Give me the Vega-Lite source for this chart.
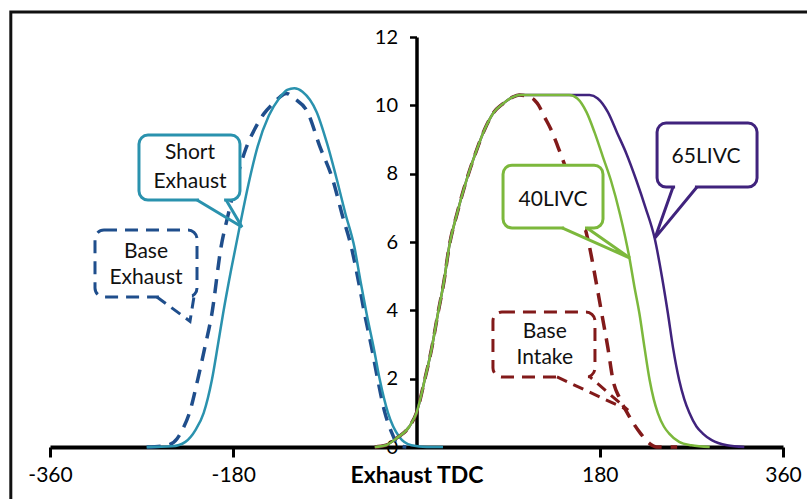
{
  "$schema": "https://vega.github.io/schema/vega-lite/v6.json",
  "width": 733,
  "height": 410,
  "autosize": {"type": "none"},
  "padding": {"left": 50, "top": 37, "right": 24, "bottom": 52},
  "background": "white",
  "config": {"view": {"stroke": null}, "font": "Lato"},
  "datasets": {
    "curves": [
      {"series": "Base Exhaust", "angle": -265, "lift": 0},
      {"series": "Base Exhaust", "angle": -245, "lift": 0.05},
      {"series": "Base Exhaust", "angle": -235, "lift": 0.25},
      {"series": "Base Exhaust", "angle": -230, "lift": 0.5},
      {"series": "Base Exhaust", "angle": -223, "lift": 1.0},
      {"series": "Base Exhaust", "angle": -215, "lift": 1.96},
      {"series": "Base Exhaust", "angle": -208, "lift": 2.9},
      {"series": "Base Exhaust", "angle": -201, "lift": 3.9},
      {"series": "Base Exhaust", "angle": -192, "lift": 5.85},
      {"series": "Base Exhaust", "angle": -185, "lift": 6.8},
      {"series": "Base Exhaust", "angle": -177, "lift": 7.8},
      {"series": "Base Exhaust", "angle": -168, "lift": 8.7},
      {"series": "Base Exhaust", "angle": -159, "lift": 9.3},
      {"series": "Base Exhaust", "angle": -150, "lift": 9.75},
      {"series": "Base Exhaust", "angle": -141, "lift": 10.05},
      {"series": "Base Exhaust", "angle": -134, "lift": 10.25},
      {"series": "Base Exhaust", "angle": -128, "lift": 10.35},
      {"series": "Base Exhaust", "angle": -120, "lift": 10.2},
      {"series": "Base Exhaust", "angle": -107, "lift": 9.8},
      {"series": "Base Exhaust", "angle": -95, "lift": 8.8},
      {"series": "Base Exhaust", "angle": -82, "lift": 7.8},
      {"series": "Base Exhaust", "angle": -73, "lift": 6.8},
      {"series": "Base Exhaust", "angle": -64, "lift": 5.85},
      {"series": "Base Exhaust", "angle": -57, "lift": 4.85},
      {"series": "Base Exhaust", "angle": -51, "lift": 3.9},
      {"series": "Base Exhaust", "angle": -44, "lift": 2.9},
      {"series": "Base Exhaust", "angle": -38, "lift": 1.96},
      {"series": "Base Exhaust", "angle": -31, "lift": 1.0},
      {"series": "Base Exhaust", "angle": -24, "lift": 0.4},
      {"series": "Base Exhaust", "angle": -18, "lift": 0.05},
      {"series": "Base Exhaust", "angle": -10, "lift": 0},

      {"series": "Short Exhaust", "angle": -265, "lift": 0},
      {"series": "Short Exhaust", "angle": -240, "lift": 0.02},
      {"series": "Short Exhaust", "angle": -227, "lift": 0.15},
      {"series": "Short Exhaust", "angle": -217, "lift": 0.5},
      {"series": "Short Exhaust", "angle": -209, "lift": 1.0},
      {"series": "Short Exhaust", "angle": -201, "lift": 1.96},
      {"series": "Short Exhaust", "angle": -195, "lift": 3.0},
      {"series": "Short Exhaust", "angle": -190, "lift": 3.9},
      {"series": "Short Exhaust", "angle": -182, "lift": 5.2},
      {"series": "Short Exhaust", "angle": -174, "lift": 6.4},
      {"series": "Short Exhaust", "angle": -165, "lift": 7.7},
      {"series": "Short Exhaust", "angle": -156, "lift": 8.8},
      {"series": "Short Exhaust", "angle": -145, "lift": 9.7},
      {"series": "Short Exhaust", "angle": -135, "lift": 10.2},
      {"series": "Short Exhaust", "angle": -127, "lift": 10.45},
      {"series": "Short Exhaust", "angle": -120, "lift": 10.5},
      {"series": "Short Exhaust", "angle": -112, "lift": 10.4},
      {"series": "Short Exhaust", "angle": -98, "lift": 9.8},
      {"series": "Short Exhaust", "angle": -88, "lift": 8.9},
      {"series": "Short Exhaust", "angle": -78, "lift": 7.8},
      {"series": "Short Exhaust", "angle": -70, "lift": 6.85},
      {"series": "Short Exhaust", "angle": -61, "lift": 5.85},
      {"series": "Short Exhaust", "angle": -55, "lift": 4.85},
      {"series": "Short Exhaust", "angle": -49, "lift": 3.9},
      {"series": "Short Exhaust", "angle": -42, "lift": 2.9},
      {"series": "Short Exhaust", "angle": -36, "lift": 1.96},
      {"series": "Short Exhaust", "angle": -28, "lift": 1.0},
      {"series": "Short Exhaust", "angle": -17, "lift": 0.3},
      {"series": "Short Exhaust", "angle": -5, "lift": 0.05},
      {"series": "Short Exhaust", "angle": 10, "lift": 0},
      {"series": "Short Exhaust", "angle": 26, "lift": 0},

      {"series": "Base Intake", "angle": -41, "lift": 0},
      {"series": "Base Intake", "angle": -30, "lift": 0.05},
      {"series": "Base Intake", "angle": -20, "lift": 0.25},
      {"series": "Base Intake", "angle": -7, "lift": 0.6},
      {"series": "Base Intake", "angle": 0, "lift": 1.0},
      {"series": "Base Intake", "angle": 8, "lift": 1.96},
      {"series": "Base Intake", "angle": 15, "lift": 2.9},
      {"series": "Base Intake", "angle": 21, "lift": 3.9},
      {"series": "Base Intake", "angle": 27, "lift": 4.85},
      {"series": "Base Intake", "angle": 32, "lift": 5.85},
      {"series": "Base Intake", "angle": 40, "lift": 6.85},
      {"series": "Base Intake", "angle": 49, "lift": 7.8},
      {"series": "Base Intake", "angle": 58, "lift": 8.6},
      {"series": "Base Intake", "angle": 67, "lift": 9.3},
      {"series": "Base Intake", "angle": 76, "lift": 9.8},
      {"series": "Base Intake", "angle": 85, "lift": 10.05},
      {"series": "Base Intake", "angle": 95, "lift": 10.25},
      {"series": "Base Intake", "angle": 101, "lift": 10.3},
      {"series": "Base Intake", "angle": 110, "lift": 10.25},
      {"series": "Base Intake", "angle": 116, "lift": 10.15},
      {"series": "Base Intake", "angle": 120, "lift": 10.0},
      {"series": "Base Intake", "angle": 125, "lift": 9.7},
      {"series": "Base Intake", "angle": 132, "lift": 9.3},
      {"series": "Base Intake", "angle": 139, "lift": 8.78},
      {"series": "Base Intake", "angle": 151, "lift": 7.8},
      {"series": "Base Intake", "angle": 161, "lift": 6.9},
      {"series": "Base Intake", "angle": 170, "lift": 5.85},
      {"series": "Base Intake", "angle": 176, "lift": 4.9},
      {"series": "Base Intake", "angle": 182, "lift": 3.9},
      {"series": "Base Intake", "angle": 188, "lift": 2.9},
      {"series": "Base Intake", "angle": 193, "lift": 1.96},
      {"series": "Base Intake", "angle": 200, "lift": 1.4},
      {"series": "Base Intake", "angle": 207, "lift": 1.0},
      {"series": "Base Intake", "angle": 214, "lift": 0.65},
      {"series": "Base Intake", "angle": 220, "lift": 0.4},
      {"series": "Base Intake", "angle": 229, "lift": 0.1},
      {"series": "Base Intake", "angle": 236, "lift": 0},
      {"series": "Base Intake", "angle": 256, "lift": 0},

      {"series": "65LIVC", "angle": -41, "lift": 0},
      {"series": "65LIVC", "angle": -30, "lift": 0.05},
      {"series": "65LIVC", "angle": -20, "lift": 0.25},
      {"series": "65LIVC", "angle": -7, "lift": 0.6},
      {"series": "65LIVC", "angle": 0, "lift": 1.0},
      {"series": "65LIVC", "angle": 8, "lift": 1.96},
      {"series": "65LIVC", "angle": 15, "lift": 2.9},
      {"series": "65LIVC", "angle": 21, "lift": 3.9},
      {"series": "65LIVC", "angle": 27, "lift": 4.85},
      {"series": "65LIVC", "angle": 32, "lift": 5.85},
      {"series": "65LIVC", "angle": 40, "lift": 6.85},
      {"series": "65LIVC", "angle": 49, "lift": 7.8},
      {"series": "65LIVC", "angle": 58, "lift": 8.6},
      {"series": "65LIVC", "angle": 67, "lift": 9.3},
      {"series": "65LIVC", "angle": 76, "lift": 9.8},
      {"series": "65LIVC", "angle": 85, "lift": 10.05},
      {"series": "65LIVC", "angle": 95, "lift": 10.25},
      {"series": "65LIVC", "angle": 101, "lift": 10.3},
      {"series": "65LIVC", "angle": 170, "lift": 10.3},
      {"series": "65LIVC", "angle": 178, "lift": 10.2},
      {"series": "65LIVC", "angle": 188, "lift": 9.8},
      {"series": "65LIVC", "angle": 197, "lift": 9.2},
      {"series": "65LIVC", "angle": 206, "lift": 8.6},
      {"series": "65LIVC", "angle": 216, "lift": 7.8},
      {"series": "65LIVC", "angle": 225, "lift": 7.0},
      {"series": "65LIVC", "angle": 234, "lift": 6.1},
      {"series": "65LIVC", "angle": 241, "lift": 5.0},
      {"series": "65LIVC", "angle": 247, "lift": 3.9},
      {"series": "65LIVC", "angle": 252, "lift": 2.9},
      {"series": "65LIVC", "angle": 258, "lift": 1.96},
      {"series": "65LIVC", "angle": 263, "lift": 1.4},
      {"series": "65LIVC", "angle": 268, "lift": 1.0},
      {"series": "65LIVC", "angle": 275, "lift": 0.6},
      {"series": "65LIVC", "angle": 281, "lift": 0.4},
      {"series": "65LIVC", "angle": 290, "lift": 0.2},
      {"series": "65LIVC", "angle": 305, "lift": 0.05},
      {"series": "65LIVC", "angle": 322, "lift": 0},

      {"series": "40LIVC", "angle": -41, "lift": 0},
      {"series": "40LIVC", "angle": -30, "lift": 0.05},
      {"series": "40LIVC", "angle": -20, "lift": 0.25},
      {"series": "40LIVC", "angle": -7, "lift": 0.6},
      {"series": "40LIVC", "angle": 0, "lift": 1.0},
      {"series": "40LIVC", "angle": 8, "lift": 1.96},
      {"series": "40LIVC", "angle": 15, "lift": 2.9},
      {"series": "40LIVC", "angle": 21, "lift": 3.9},
      {"series": "40LIVC", "angle": 27, "lift": 4.85},
      {"series": "40LIVC", "angle": 32, "lift": 5.85},
      {"series": "40LIVC", "angle": 40, "lift": 6.85},
      {"series": "40LIVC", "angle": 49, "lift": 7.8},
      {"series": "40LIVC", "angle": 58, "lift": 8.6},
      {"series": "40LIVC", "angle": 67, "lift": 9.3},
      {"series": "40LIVC", "angle": 76, "lift": 9.8},
      {"series": "40LIVC", "angle": 85, "lift": 10.05},
      {"series": "40LIVC", "angle": 95, "lift": 10.25},
      {"series": "40LIVC", "angle": 101, "lift": 10.3},
      {"series": "40LIVC", "angle": 150, "lift": 10.3},
      {"series": "40LIVC", "angle": 158, "lift": 10.2},
      {"series": "40LIVC", "angle": 167, "lift": 9.8},
      {"series": "40LIVC", "angle": 175, "lift": 9.2},
      {"series": "40LIVC", "angle": 183, "lift": 8.5},
      {"series": "40LIVC", "angle": 191, "lift": 7.8},
      {"series": "40LIVC", "angle": 200, "lift": 6.8},
      {"series": "40LIVC", "angle": 209, "lift": 5.56},
      {"series": "40LIVC", "angle": 214, "lift": 4.7},
      {"series": "40LIVC", "angle": 219, "lift": 3.9},
      {"series": "40LIVC", "angle": 224, "lift": 2.9},
      {"series": "40LIVC", "angle": 229, "lift": 1.96},
      {"series": "40LIVC", "angle": 233, "lift": 1.4},
      {"series": "40LIVC", "angle": 237, "lift": 1.0},
      {"series": "40LIVC", "angle": 243, "lift": 0.6},
      {"series": "40LIVC", "angle": 248, "lift": 0.4},
      {"series": "40LIVC", "angle": 258, "lift": 0.15},
      {"series": "40LIVC", "angle": 270, "lift": 0.05},
      {"series": "40LIVC", "angle": 288, "lift": 0}
    ],
    "boxes": [
      {"series": "Short Exhaust", "dashed": false, "x1": -272.6, "x2": -173.4, "y1": 7.23, "y2": 9.13},
      {"series": "Base Exhaust", "dashed": true, "x1": -315.8, "x2": -215.6, "y1": 4.39, "y2": 6.35},
      {"series": "40LIVC", "dashed": false, "x1": 85, "x2": 183.2, "y1": 6.41, "y2": 8.25},
      {"series": "65LIVC", "dashed": false, "x1": 236.3, "x2": 334.5, "y1": 7.61, "y2": 9.48},
      {"series": "Base Intake", "dashed": true, "x1": 75.1, "x2": 175.3, "y1": 2.05, "y2": 3.95}
    ],
    "pointers": [
      {"series": "Short Exhaust", "dashed": false, "pt": 1, "angle": -215.6, "lift": 7.23},
      {"series": "Short Exhaust", "dashed": false, "pt": 2, "angle": -171.4, "lift": 6.44},
      {"series": "Short Exhaust", "dashed": false, "pt": 3, "angle": -187, "lift": 7.23},
      {"series": "Base Exhaust", "dashed": true, "pt": 1, "angle": -255, "lift": 4.39},
      {"series": "Base Exhaust", "dashed": true, "pt": 2, "angle": -222.5, "lift": 3.68},
      {"series": "Base Exhaust", "dashed": true, "pt": 3, "angle": -218.6, "lift": 4.39},
      {"series": "40LIVC", "dashed": false, "pt": 1, "angle": 143, "lift": 6.41},
      {"series": "40LIVC", "dashed": false, "pt": 2, "angle": 209.7, "lift": 5.53},
      {"series": "40LIVC", "dashed": false, "pt": 3, "angle": 167.5, "lift": 6.41},
      {"series": "65LIVC", "dashed": false, "pt": 1, "angle": 252, "lift": 7.61},
      {"series": "65LIVC", "dashed": false, "pt": 2, "angle": 234.3, "lift": 6.12},
      {"series": "65LIVC", "dashed": false, "pt": 3, "angle": 275.5, "lift": 7.61},
      {"series": "Base Intake", "dashed": true, "pt": 1, "angle": 138, "lift": 2.05},
      {"series": "Base Intake", "dashed": true, "pt": 2, "angle": 207.8, "lift": 1.08},
      {"series": "Base Intake", "dashed": true, "pt": 3, "angle": 170.4, "lift": 2.05}
    ],
    "gaps": [
      {"series": "Short Exhaust", "a": -213.6, "b": -189, "lift": 7.23},
      {"series": "Base Exhaust", "a": -253, "b": -220.6, "lift": 4.39},
      {"series": "40LIVC", "a": 145, "b": 165.5, "lift": 6.41},
      {"series": "65LIVC", "a": 254, "b": 273.5, "lift": 7.61},
      {"series": "Base Intake", "a": 140, "b": 168.4, "lift": 2.05}
    ],
    "labels": [
      {"series": "Short Exhaust", "angle": -222.5, "lift": 8.6, "text": "Short"},
      {"series": "Short Exhaust", "angle": -222.5, "lift": 7.76, "text": "Exhaust"},
      {"series": "Base Exhaust", "angle": -265.7, "lift": 5.71, "text": "Base"},
      {"series": "Base Exhaust", "angle": -265.7, "lift": 4.95, "text": "Exhaust"},
      {"series": "40LIVC", "angle": 134.1, "lift": 7.23, "text": "40LIVC"},
      {"series": "65LIVC", "angle": 284.4, "lift": 8.49, "text": "65LIVC"},
      {"series": "Base Intake", "angle": 126, "lift": 3.36, "text": "Base"},
      {"series": "Base Intake", "angle": 126, "lift": 2.6, "text": "Intake"}
    ],
    "frame": [
      {"x1": -398.5, "x2": 400, "y1": 12.73, "y2": -2}
    ]
  },
  "layer": [
    {
      "data": {"name": "frame"},
      "mark": {"type": "rect", "filled": false, "stroke": "#111111", "strokeWidth": 3},
      "encoding": {
        "x": {"field": "x1", "type": "quantitative", "scale": {"domain": [-360, 360], "nice": false, "zero": false}},
        "x2": {"field": "x2"},
        "y": {"field": "y1", "type": "quantitative", "scale": {"domain": [0, 12], "nice": false, "zero": false}},
        "y2": {"field": "y2"}
      }
    },
    {
      "data": {"name": "curves"},
      "transform": [{"filter": "datum.series === 'Base Exhaust'"}],
      "mark": {"type": "line", "interpolate": "monotone", "strokeWidth": 3.5, "strokeDash": [14, 9]},
      "encoding": {
        "x": {"field": "angle", "type": "quantitative", "scale": {"domain": [-360, 360], "nice": false, "zero": false},
          "axis": {"values": [-360, -180, 0, 180, 360], "title": null, "grid": false,
            "domainColor": "#000000", "domainWidth": 4, "tickColor": "#000000", "tickWidth": 3, "tickSize": 10,
            "tickOpacity": {"condition": {"test": "datum.value === 0", "value": 0}, "value": 1},
            "labelExpr": "datum.value === 0 ? 'Exhaust TDC' : toString(datum.value)",
            "labelFontWeight": {"condition": {"test": "datum.value === 0", "value": "bold"}, "value": "normal"},
            "labelFontSize": {"condition": {"test": "datum.value === 0", "value": 23}, "value": 21},
            "labelFont": "Lato", "labelColor": "#000000", "labelPadding": 7, "labelFlush": false, "labelOverlap": false}},
        "y": {"field": "lift", "type": "quantitative", "scale": {"domain": [0, 12], "nice": false, "zero": false},
          "axis": {"values": [0, 2, 4, 6, 8, 10, 12], "title": null, "grid": false, "offset": -366.5,
            "domainColor": "#000000", "domainWidth": 3.5, "tickColor": "#000000", "tickWidth": 2.5, "tickSize": 7,
            "labelFont": "Lato", "labelFontSize": 20, "labelColor": "#000000", "labelPadding": 12}},
        "stroke": {"field": "series", "type": "nominal", "legend": null,
          "scale": {"domain": ["Short Exhaust", "Base Exhaust", "Base Intake", "40LIVC", "65LIVC"],
                    "range": ["#2A92AE", "#1F4E8C", "#821A1A", "#7CB83C", "#40237D"]}},
        "order": {"field": "angle", "type": "quantitative"}
      }
    },
    {
      "data": {"name": "curves"},
      "transform": [{"filter": "datum.series === 'Short Exhaust'"}],
      "mark": {"type": "line", "interpolate": "monotone", "strokeWidth": 2.5},
      "encoding": {
        "x": {"field": "angle", "type": "quantitative"},
        "y": {"field": "lift", "type": "quantitative"},
        "stroke": {"field": "series", "type": "nominal", "legend": null},
        "order": {"field": "angle", "type": "quantitative"}
      }
    },
    {
      "data": {"name": "curves"},
      "transform": [{"filter": "datum.series === 'Base Intake'"}],
      "mark": {"type": "line", "interpolate": "monotone", "strokeWidth": 3.5, "strokeDash": [14, 9]},
      "encoding": {
        "x": {"field": "angle", "type": "quantitative"},
        "y": {"field": "lift", "type": "quantitative"},
        "stroke": {"field": "series", "type": "nominal", "legend": null},
        "order": {"field": "angle", "type": "quantitative"}
      }
    },
    {
      "data": {"name": "curves"},
      "transform": [{"filter": "datum.series === '65LIVC'"}],
      "mark": {"type": "line", "interpolate": "monotone", "strokeWidth": 2.5},
      "encoding": {
        "x": {"field": "angle", "type": "quantitative"},
        "y": {"field": "lift", "type": "quantitative"},
        "stroke": {"field": "series", "type": "nominal", "legend": null},
        "order": {"field": "angle", "type": "quantitative"}
      }
    },
    {
      "data": {"name": "curves"},
      "transform": [{"filter": "datum.series === '40LIVC'"}],
      "mark": {"type": "line", "interpolate": "monotone", "strokeWidth": 2.5},
      "encoding": {
        "x": {"field": "angle", "type": "quantitative"},
        "y": {"field": "lift", "type": "quantitative"},
        "stroke": {"field": "series", "type": "nominal", "legend": null},
        "order": {"field": "angle", "type": "quantitative"}
      }
    },
    {
      "data": {"name": "boxes"},
      "transform": [{"filter": "!datum.dashed"}],
      "mark": {"type": "rect", "fill": "white", "strokeWidth": 3, "cornerRadius": 9},
      "encoding": {
        "x": {"field": "x1", "type": "quantitative"},
        "x2": {"field": "x2"},
        "y": {"field": "y1", "type": "quantitative"},
        "y2": {"field": "y2"},
        "stroke": {"field": "series", "type": "nominal", "legend": null}
      }
    },
    {
      "data": {"name": "boxes"},
      "transform": [{"filter": "datum.dashed"}],
      "mark": {"type": "rect", "fill": "white", "strokeWidth": 3, "cornerRadius": 9, "strokeDash": [13, 8]},
      "encoding": {
        "x": {"field": "x1", "type": "quantitative"},
        "x2": {"field": "x2"},
        "y": {"field": "y1", "type": "quantitative"},
        "y2": {"field": "y2"},
        "stroke": {"field": "series", "type": "nominal", "legend": null}
      }
    },
    {
      "data": {"name": "gaps"},
      "mark": {"type": "rule", "stroke": "white", "strokeWidth": 5},
      "encoding": {
        "x": {"field": "a", "type": "quantitative"},
        "x2": {"field": "b"},
        "y": {"field": "lift", "type": "quantitative"}
      }
    },
    {
      "data": {"name": "pointers"},
      "transform": [{"filter": "!datum.dashed"}],
      "mark": {"type": "line", "strokeWidth": 3, "strokeJoin": "miter"},
      "encoding": {
        "x": {"field": "angle", "type": "quantitative"},
        "y": {"field": "lift", "type": "quantitative"},
        "stroke": {"field": "series", "type": "nominal", "legend": null},
        "detail": {"field": "series", "type": "nominal"},
        "order": {"field": "pt", "type": "quantitative"}
      }
    },
    {
      "data": {"name": "pointers"},
      "transform": [{"filter": "datum.dashed"}],
      "mark": {"type": "line", "strokeWidth": 3, "strokeDash": [11, 7], "strokeJoin": "miter"},
      "encoding": {
        "x": {"field": "angle", "type": "quantitative"},
        "y": {"field": "lift", "type": "quantitative"},
        "stroke": {"field": "series", "type": "nominal", "legend": null},
        "detail": {"field": "series", "type": "nominal"},
        "order": {"field": "pt", "type": "quantitative"}
      }
    },
    {
      "data": {"name": "labels"},
      "mark": {"type": "text", "font": "Lato", "fontSize": 21, "color": "#111111", "align": "center", "baseline": "middle"},
      "encoding": {
        "x": {"field": "angle", "type": "quantitative"},
        "y": {"field": "lift", "type": "quantitative"},
        "text": {"field": "text", "type": "nominal"}
      }
    }
  ]
}
